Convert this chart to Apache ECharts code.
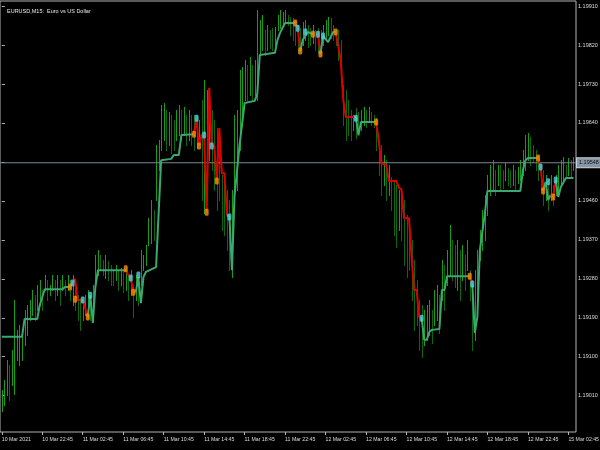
<!DOCTYPE html>
<html><head><meta charset="utf-8">
<script src="https://cdn.jsdelivr.net/npm/echarts@6/dist/echarts.min.js"></script>
<style>html,body{margin:0;padding:0;background:#000}#c{width:600px;height:450px}</style>
</head><body><div id="c"></div>
<script>
const highs=[1.19023,1.19046,1.19092,1.19081,1.19116,1.19231,1.19162,1.19173,1.19162,1.19208,
1.19219,1.19231,1.19254,1.19243,1.19266,1.19277,1.19254,1.19289,1.19277,1.19266,
1.19289,1.19277,1.19289,1.19277,1.19289,1.19277,1.19289,1.19277,1.19289,1.19266,
1.19243,1.19231,1.19231,1.19243,1.19254,1.19243,1.19266,1.19335,1.19347,1.19335,
1.19323,1.19335,1.19321,1.19312,1.19300,1.19312,1.19300,1.19305,1.19300,1.19305,
1.19289,1.19300,1.19266,1.19289,1.19277,1.19347,1.19335,1.19358,1.19420,1.19462,
1.19439,1.19589,1.19601,1.19681,1.19686,1.19670,1.19665,1.19658,1.19647,1.19670,
1.19681,1.19670,1.19677,1.19658,1.19670,1.19658,1.19658,1.19654,1.19647,1.19693,
1.19739,1.19716,1.19716,1.19670,1.19647,1.19628,1.19578,1.19520,1.19508,1.19485,
1.19462,1.19485,1.19658,1.19670,1.19762,1.19769,1.19785,1.19774,1.19792,1.19774,
1.19785,1.19901,1.19878,1.19889,1.19855,1.19866,1.19855,1.19859,1.19862,1.19889,
1.19901,1.19896,1.19901,1.19889,1.19885,1.19882,1.19878,1.19866,1.19859,1.19873,
1.19878,1.19866,1.19859,1.19866,1.19855,1.19859,1.19855,1.19866,1.19878,1.19885,
1.19882,1.19866,1.19855,1.19855,1.19832,1.19728,1.19716,1.19693,1.19670,1.19658,
1.19674,1.19665,1.19670,1.19677,1.19670,1.19677,1.19665,1.19658,1.19651,1.19601,
1.19589,1.19566,1.19554,1.19543,1.19515,1.19508,1.19497,1.19485,1.19474,1.19462,
1.19427,1.19393,1.19370,1.19323,1.19277,1.19231,1.19219,1.19208,1.19219,1.19231,
1.19208,1.19254,1.19266,1.19243,1.19323,1.19312,1.19347,1.19404,1.19370,1.19358,
1.19370,1.19347,1.19358,1.19335,1.19370,1.19300,1.19277,1.19300,1.19347,1.19393,
1.19439,1.19474,1.19520,1.19543,1.19554,1.19531,1.19543,1.19543,1.19531,1.19547,
1.19536,1.19531,1.19543,1.19531,1.19538,1.19554,1.19578,1.19612,1.19617,1.19608,
1.19589,1.19578,1.19566,1.19543,1.19531,1.19520,1.19508,1.19520,1.19497,1.19520,
1.19543,1.19554,1.19561,1.19543,1.19559,1.19554,1.19561];
const lows=[1.18975,1.18988,1.19012,1.19000,1.19035,1.19015,1.19092,1.19081,1.19092,1.19127,
1.19150,1.19185,1.19196,1.19185,1.19208,1.19219,1.19208,1.19254,1.19231,1.19243,
1.19254,1.19231,1.19243,1.19219,1.19254,1.19243,1.19254,1.19231,1.19219,1.19208,
1.19185,1.19162,1.19185,1.19196,1.19190,1.19185,1.19208,1.19266,1.19289,1.19300,
1.19289,1.19282,1.19277,1.19266,1.19266,1.19277,1.19254,1.19266,1.19249,1.19254,
1.19231,1.19243,1.19192,1.19231,1.19219,1.19266,1.19300,1.19312,1.19358,1.19362,
1.19370,1.19462,1.19531,1.19578,1.19601,1.19578,1.19589,1.19570,1.19578,1.19601,
1.19612,1.19601,1.19612,1.19589,1.19601,1.19589,1.19578,1.19582,1.19589,1.19462,
1.19432,1.19508,1.19554,1.19531,1.19485,1.19439,1.19462,1.19393,1.19381,1.19347,
1.19300,1.19284,1.19439,1.19485,1.19578,1.19658,1.19693,1.19693,1.19705,1.19693,
1.19705,1.19693,1.19797,1.19808,1.19797,1.19808,1.19813,1.19808,1.19820,1.19855,
1.19859,1.19866,1.19873,1.19866,1.19843,1.19832,1.19820,1.19802,1.19808,1.19820,
1.19832,1.19815,1.19820,1.19825,1.19808,1.19802,1.19797,1.19820,1.19832,1.19843,
1.19836,1.19832,1.19820,1.19785,1.19732,1.19635,1.19601,1.19612,1.19601,1.19624,
1.19605,1.19612,1.19624,1.19635,1.19631,1.19642,1.19635,1.19631,1.19578,1.19520,
1.19474,1.19497,1.19462,1.19474,1.19439,1.19381,1.19353,1.19393,1.19370,1.19312,
1.19284,1.19300,1.19231,1.19162,1.19173,1.19116,1.19099,1.19127,1.19139,1.19150,
1.19132,1.19173,1.19185,1.19155,1.19231,1.19208,1.19266,1.19289,1.19277,1.19261,
1.19254,1.19231,1.19277,1.19254,1.19300,1.19231,1.19116,1.19139,1.19231,1.19323,
1.19347,1.19370,1.19427,1.19474,1.19485,1.19474,1.19497,1.19485,1.19490,1.19508,
1.19497,1.19492,1.19497,1.19485,1.19501,1.19508,1.19520,1.19531,1.19554,1.19543,
1.19550,1.19531,1.19508,1.19485,1.19450,1.19462,1.19439,1.19462,1.19450,1.19474,
1.19474,1.19497,1.19508,1.19513,1.19520,1.19515,1.19531];
// trend line vertices: [bar, price, direction of the segment ending here (1 up, -1 down)]
const trendPts=[[0,1.19146,1],[8,1.19146,1],[9,1.19187,1],[14,1.19187,1],[15,1.19219,1],[17,1.19256,1],[24,1.19256,1],[25,1.19261,1],[27,1.19261,1],
[28,1.19270,-1],[29,1.19280,-1],[30,1.19231,-1],[32,1.19231,-1],[34,1.19192,-1],
[35,1.19242,1],[36,1.19178,1],[37,1.19261,1],[38,1.19300,1],[49,1.19300,1],
[50,1.19289,-1],[51,1.19282,-1],[52,1.19249,-1],[53,1.19249,-1],
[54,1.19284,1],[55,1.19224,1],[56,1.19284,1],[57,1.19296,1],[61,1.19307,1],[63,1.19554,1],[67,1.19557,1],[68,1.19566,1],[70,1.19566,1],[71,1.19612,1],[76,1.19614,1],
[77,1.19647,-1],[78,1.19587,-1],[79,1.19612,-1],[80,1.19612,-1],[81,1.19434,-1],[82,1.19721,-1],[83,1.19587,-1],[84,1.19587,-1],[85,1.19506,-1],[86,1.19628,-1],[87,1.19524,-1],[88,1.19524,-1],[89,1.19427,-1],
[90,1.19423,1],[91,1.19300,1],[92,1.19471,1],[94,1.19589,1],[96,1.19686,1],[100,1.19691,1],[101,1.19707,1],[102,1.19797,1],[108,1.19802,1],[109,1.19832,1],[110,1.19848,1],[112,1.19871,1],[116,1.19871,1],
[117,1.19859,-1],[118,1.19806,-1],
[119,1.19832,1],[121,1.19850,1],[123,1.19845,1],
[125,1.19845,-1],[126,1.19799,-1],
[127,1.19841,1],[129,1.19827,1],[131,1.19850,1],[132,1.19850,1],
[134,1.19785,-1],[135,1.19693,-1],[136,1.19654,-1],[140,1.19654,-1],
[141,1.19612,1],[142,1.19642,1],[148,1.19642,1],
[149,1.19601,-1],[150,1.19547,-1],[152,1.19543,-1],[153,1.19506,-1],[156,1.19506,-1],[157,1.19490,-1],[158,1.19487,-1],[159,1.19420,-1],[161,1.19420,-1],[162,1.19330,-1],[163,1.19254,-1],[164,1.19254,-1],[165,1.19192,-1],[166,1.19189,-1],
[167,1.19139,1],[168,1.19139,1],[169,1.19157,1],[170,1.19162,1],[173,1.19164,1],[174,1.19254,1],[175,1.19254,1],[176,1.19286,1],[185,1.19286,1],
[186,1.19268,-1],
[187,1.19155,1],[188,1.19192,1],[189,1.19347,1],[191,1.19432,1],[192,1.19483,1],[205,1.19483,1],[206,1.19531,1],[207,1.19554,1],[208,1.19559,1],[212,1.19559,1],
[213,1.19538,-1],[214,1.19483,-1],
[215,1.19504,1],[216,1.19462,1],[217,1.19474,1],
[218,1.19469,-1],[219,1.19508,-1],
[220,1.19469,1],[221,1.19492,1],[223,1.19513,1],[226,1.19513,1]];
const cyanDots=[[28,1.19270],[32,1.19231],[35,1.19242],[51,1.19282],[54,1.19289],[77,1.19651],[80,1.19612],[83,1.19587],[90,1.19423],
[117,1.19859],[120,1.19850],[125,1.19845],[127,1.19841],[140,1.19651],[166,1.19189],[186,1.19268],[213,1.19538],[216,1.19504],[219,1.19508]];
const orangeDots=[[27,1.19261],[29,1.19233],[34,1.19192],[49,1.19303],[52,1.19249],[76,1.19614],[78,1.19587],[81,1.19434],[85,1.19506],
[116,1.19871],[118,1.19806],[123,1.19845],[126,1.19799],[132,1.19850],[148,1.19642],[185,1.19286],[212,1.19559],[214,1.19483],[218,1.19469]];
const xTickIdx=[0,16,32,48,64,80,96,112,128,144,160,176,192,208,224];
const xTickLabels=['10 Mar 2021','10 Mar 22:45','11 Mar 02:45','11 Mar 06:45','11 Mar 10:45','11 Mar 14:45','11 Mar 18:45','11 Mar 22:45',
'12 Mar 02:45','12 Mar 06:45','12 Mar 10:45','12 Mar 14:45','12 Mar 18:45','12 Mar 22:45','15 Mar 02:45'];
const yTicks=[1.19010,1.19100,1.19190,1.19280,1.19370,1.19460,1.19550,1.19640,1.19730,1.19820,1.19910];
const yLabelTicks=[1.19010,1.19100,1.19190,1.19280,1.19370,1.19460,1.19640,1.19730,1.19820,1.19910];
const currentPrice=1.19548;
const titleText='EURUSD,M15:  Euro vs US Dollar';

const FONT='"Liberation Sans","Arial",sans-serif';
const barData=highs.map((h,i)=>{
  const mid=(h+lows[i])/2, pm=i>0?(highs[i-1]+lows[i-1])/2:mid;
  return [i,h,lows[i],mid>=pm?1:0];
});
const runs=[];let cur=null;
trendPts.forEach((p,k)=>{
  if(k===0){cur={d:p[2],pts:[[p[0],p[1]]]};return;}
  if(p[2]!==cur.d){const prev=cur.pts[cur.pts.length-1];runs.push(cur);cur={d:p[2],pts:[prev,[p[0],p[1]]]};}
  else cur.pts.push([p[0],p[1]]);
});
runs.push(cur);

const series=[{
  type:'custom',z:2,animation:false,silent:true,
  encode:{x:0,y:[1,2]},
  data:barData,
  renderItem:function(params,api){
    const i=api.value(0);
    const a=api.coord([i,api.value(1)]), b=api.coord([i,api.value(2)]);
    const x=Math.round(a[0])+0.5;
    return {type:'line',shape:{x1:x,y1:Math.round(a[1]),x2:x,y2:Math.round(b[1])+1},
      style:{stroke:api.value(3)?'#12a012':'#0a6a0a',lineWidth:1}};
  }
},{
  type:'line',z:3,animation:false,silent:true,symbol:'none',
  data:[[-0.7,currentPrice],[227,currentPrice]],
  lineStyle:{color:'#7a8997',width:1},
  endLabel:{show:true,formatter:()=>currentPrice.toFixed(5),backgroundColor:'#8796a5',borderColor:'#c8d0d8',borderWidth:1,
    color:'#101010',padding:[2,2,1,2],fontSize:5.5,fontFamily:FONT,distance:1}
}];
runs.forEach((r)=>{
  series.push({type:'line',data:r.pts,symbol:'none',z:4,animation:false,silent:true,
    lineStyle:{color:r.d>0?'#3aa870':'#dd0000',width:2}});
});
series.push({type:'scatter',data:orangeDots,symbol:'roundRect',symbolSize:[4,7],z:5,animation:false,silent:true,itemStyle:{color:'#ff8c00'}});
series.push({type:'scatter',data:cyanDots,symbol:'roundRect',symbolSize:[4,7],z:5,animation:false,silent:true,itemStyle:{color:'#4fd2df'}});

const chart=echarts.init(document.getElementById('c'),null,{renderer:'canvas'});
chart.setOption({
  backgroundColor:'#000',animation:false,
  title:{text:titleText,left:2,top:3,textStyle:{color:'#e8e8e8',fontSize:5.5,fontWeight:'normal',fontFamily:FONT}},
  grid:{left:0,right:24,top:1,bottom:18,show:true,borderColor:'#b4b4b4',borderWidth:1,backgroundColor:'#000',
    containLabel:false,outerBoundsMode:'none'},
  xAxis:{type:'value',min:-0.7,max:227,splitLine:{show:false},axisLine:{show:false},
    axisTick:{show:true,customValues:xTickIdx,length:3,lineStyle:{color:'#b4b4b4'}},
    axisLabel:{customValues:xTickIdx,formatter:v=>xTickLabels[xTickIdx.indexOf(Math.round(v))],align:'left',
      color:'#dcdcdc',fontSize:5.2,fontFamily:FONT,margin:5}},
  yAxis:{type:'value',position:'right',min:1.189261,max:1.199217,scale:true,splitLine:{show:false},axisLine:{show:false},
    axisTick:{show:true,customValues:yTicks,length:3,lineStyle:{color:'#b4b4b4'}},
    axisLabel:{customValues:yLabelTicks,formatter:v=>v.toFixed(5),color:'#dcdcdc',fontSize:5.5,fontFamily:FONT,margin:2}},
  series:series
});
</script></body></html>
